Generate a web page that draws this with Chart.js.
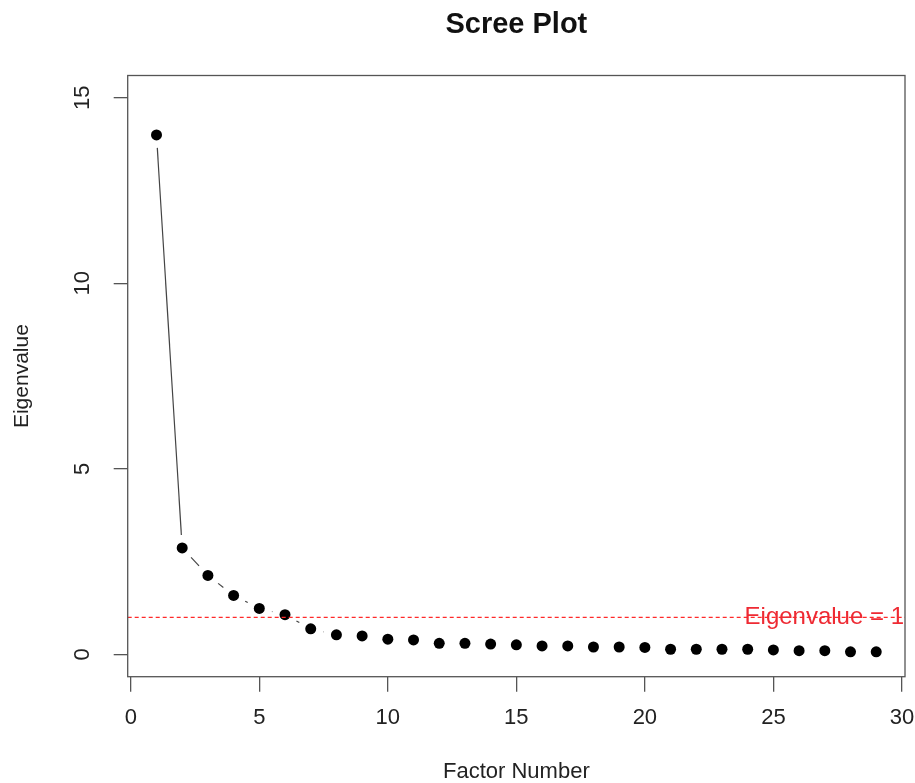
<!DOCTYPE html>
<html>
<head>
<meta charset="utf-8">
<title>Scree Plot</title>
<script src="https://cdn.jsdelivr.net/npm/chart.js@4.4.1/dist/chart.umd.min.js"></script>
<style>
    body { margin: 0; background: #fff; }
    #screeChart { display: block; }
</style>
</head>
<body>
<canvas id="screeChart" width="915" height="783"></canvas>
<script>
// factor numbers and their eigenvalues
const factors = [1, 2, 3, 4, 5, 6, 7, 8, 9, 10, 11, 12, 13, 14, 15,
    16, 17, 18, 19, 20, 21, 22, 23, 24, 25, 26, 27, 28, 29];
const eigenvalues = [14.0, 2.87, 2.13, 1.59, 1.24, 1.07, 0.69, 0.53, 0.50, 0.41,
    0.39, 0.30, 0.30, 0.28, 0.26, 0.23, 0.23, 0.20, 0.20, 0.19,
    0.14, 0.14, 0.14, 0.14, 0.12, 0.10, 0.10, 0.07, 0.07];
const xTicks = [0, 5, 10, 15, 20, 25, 30];
const yTicks = [0, 5, 10, 15];
const cutoff = 1;
const cutoffLabel = "Eigenvalue = 1";

const fontName = "'Liberation Sans', Arial, sans-serif";

let points = [];
for (let i = 0; i < factors.length; i++) {
    points.push({ x: factors[i], y: eigenvalues[i] });
}

// R style type="b": line segments with a gap around every point
const gappedLines = {
    id: 'gappedLines',
    beforeDatasetsDraw(chart) {
        const meta = chart.getDatasetMeta(0);
        const ctx = chart.ctx;
        const gap = 13;
        ctx.save();
        ctx.strokeStyle = '#444';
        ctx.lineWidth = 1.2;
        for (let i = 1; i < meta.data.length; i++) {
            const p0 = meta.data[i - 1];
            const p1 = meta.data[i];
            const dx = p1.x - p0.x;
            const dy = p1.y - p0.y;
            const len = Math.sqrt(dx * dx + dy * dy);
            if (len <= gap * 2) continue;
            const ux = dx / len;
            const uy = dy / len;
            ctx.beginPath();
            ctx.moveTo(p0.x + ux * gap, p0.y + uy * gap);
            ctx.lineTo(p1.x - ux * gap, p1.y - uy * gap);
            ctx.stroke();
        }
        ctx.restore();
    },
    afterDatasetsDraw(chart) {
        const ctx = chart.ctx;
        const area = chart.chartArea;
        const yPix = chart.scales.y.getPixelForValue(cutoff);

        ctx.save();
        // cutoff line
        ctx.strokeStyle = '#ff2a2a';
        ctx.lineWidth = 1.2;
        ctx.setLineDash([4, 3]);
        ctx.beginPath();
        ctx.moveTo(area.left, yPix);
        ctx.lineTo(area.right, yPix);
        ctx.stroke();
        ctx.setLineDash([]);

        ctx.fillStyle = '#ee2a33';
        ctx.font = '24px ' + fontName;
        ctx.textAlign = 'right';
        ctx.textBaseline = 'middle';
        ctx.fillText(cutoffLabel, area.right - 1, yPix);

        // box around the plot region
        ctx.strokeStyle = '#555';
        ctx.lineWidth = 1.3;
        ctx.strokeRect(area.left, area.top, area.right - area.left, area.bottom - area.top);
        ctx.restore();
    }
};

const config = {
    type: 'scatter',
    data: {
        datasets: [{
            label: 'Eigenvalue',
            data: points,
            showLine: false,
            pointRadius: 5.5,
            pointHoverRadius: 5.5,
            pointBackgroundColor: '#000',
            pointBorderWidth: 0
        }]
    },
    options: {
        responsive: false,
        animation: false,
        layout: {
            padding: { left: 0, right: 10, top: 0, bottom: 0 }
        },
        plugins: {
            legend: { display: false },
            tooltip: { enabled: false },
            title: {
                display: true,
                fullSize: false,
                text: 'Scree Plot',
                color: '#111',
                font: { family: fontName, size: 29, weight: 'bold' },
                padding: { top: 8, bottom: 32.7 }
            }
        },
        scales: {
            x: {
                type: 'linear',
                min: -0.12,
                max: 30.12,
                afterBuildTicks: (scale) => {
                    scale.ticks = xTicks.map(v => ({ value: v }));
                },
                afterFit: (scale) => {
                    scale.height = 106.3;
                    scale.paddingLeft = 0;
                    scale.paddingRight = 0;
                },
                border: { display: false },
                grid: {
                    drawOnChartArea: false,
                    drawTicks: true,
                    tickLength: 15,
                    color: '#555',
                    lineWidth: 1.3
                },
                ticks: {
                    color: '#222',
                    padding: 13,
                    maxRotation: 0,
                    font: { family: fontName, size: 22 }
                },
                title: {
                    display: true,
                    text: 'Factor Number',
                    color: '#222',
                    font: { family: fontName, size: 22 },
                    padding: { top: 0, bottom: -2 }
                }
            },
            y: {
                type: 'linear',
                min: -0.6,
                max: 15.6,
                afterBuildTicks: (scale) => {
                    scale.ticks = yTicks.map(v => ({ value: v }));
                },
                afterFit: (scale) => {
                    scale.width = 127.7;
                },
                border: { display: false },
                grid: {
                    drawOnChartArea: false,
                    drawTicks: true,
                    tickLength: 14,
                    color: '#555',
                    lineWidth: 1.3
                },
                ticks: {
                    color: '#222',
                    padding: 19,
                    minRotation: 90,
                    maxRotation: 90,
                    crossAlign: 'center',
                    font: { family: fontName, size: 22 }
                },
                title: {
                    display: true,
                    text: 'Eigenvalue',
                    color: '#222',
                    font: { family: fontName, size: 21 },
                    padding: { top: 10, bottom: 0 }
                }
            }
        }
    },
    plugins: [gappedLines]
};

const ctx = document.getElementById('screeChart');
const screeChart = new Chart(ctx, config);
</script>
</body>
</html>
